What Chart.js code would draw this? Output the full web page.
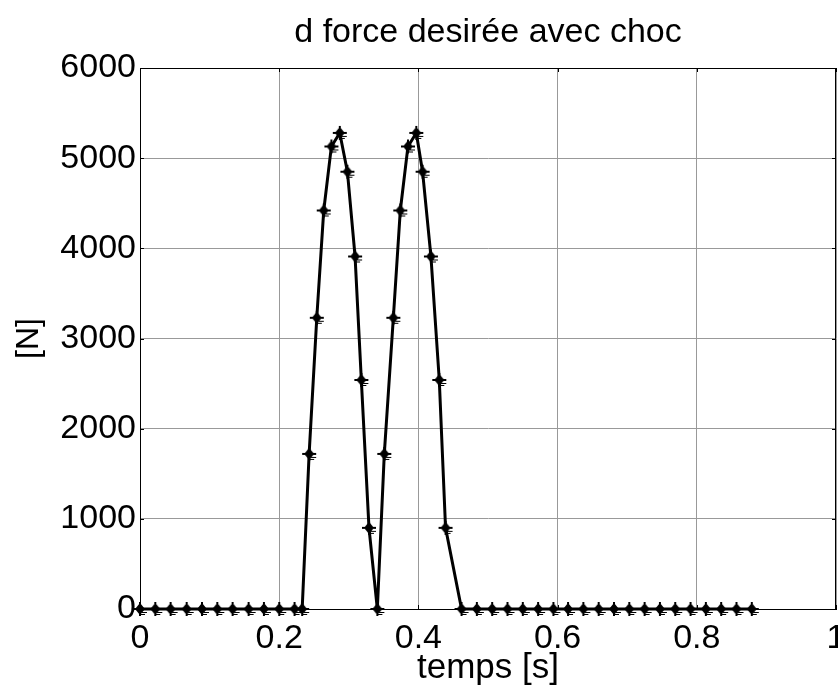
<!DOCTYPE html>
<html>
<head>
<meta charset="utf-8">
<script src="https://cdn.jsdelivr.net/npm/chart.js@4/dist/chart.umd.min.js"></script>
<style>
html,body{margin:0;padding:0;background:#fff;}
canvas{display:block;}
</style>
</head>
<body>
<canvas id="c" width="838" height="697"></canvas>
<script>
// Data
const times = [0, 0.022, 0.044, 0.067, 0.089, 0.111, 0.133, 0.156, 0.178, 0.200, 0.222, 0.233,
  0.243, 0.254, 0.264, 0.275, 0.287, 0.298, 0.309, 0.318, 0.329, 0.341,
  0.351, 0.364, 0.374, 0.385, 0.397, 0.406, 0.418, 0.430, 0.439, 0.462,
  0.484, 0.506, 0.528, 0.550, 0.572, 0.594, 0.615, 0.637, 0.659, 0.681,
  0.703, 0.725, 0.747, 0.769, 0.791, 0.813, 0.835, 0.857, 0.879];
const forces = [0, 0, 0, 0, 0, 0, 0, 0, 0, 0, 0, 0,
  1720, 3230, 4420, 5130, 5280, 4850, 3910, 2540, 900, 0,
  1720, 3230, 4420, 5130, 5280, 4850, 3910, 2540, 900, 0,
  0, 0, 0, 0, 0, 0, 0, 0, 0, 0,
  0, 0, 0, 0, 0, 0, 0, 0, 0];
const xTicks = [0, 0.2, 0.4, 0.6, 0.8, 1];
const yTicks = [0, 1000, 2000, 3000, 4000, 5000, 6000];
const titleText = 'd force desirée avec choc';
const xTitle = 'temps [s]';
const yTitle = '[N]';

const points = times.map((t, i) => ({x: t, y: forces[i]}));
const FONT = '"Liberation Sans", Arial, Helvetica, sans-serif';

// marker: filled diamond with a plus (MATLAB-like '*' marker)
function makeMarker() {
  const c = document.createElement('canvas');
  c.width = 16; c.height = 16;
  const g = c.getContext('2d');
  g.fillStyle = '#000';
  g.beginPath();
  g.moveTo(8, 2); g.lineTo(13, 8); g.lineTo(8, 14); g.lineTo(3, 8); g.closePath();
  g.fill();
  g.fillRect(1, 7, 14, 2);
  g.fillRect(7, 1, 2, 14);
  g.fillRect(10, 11, 5, 1);
  g.fillRect(9, 13, 4, 1);
  return c;
}
const marker = makeMarker();

// frame with small inward tick marks on all four sides
const borderPlugin = {
  id: 'frame',
  beforeDatasetsDraw(chart) {
    const {ctx, chartArea: a, scales} = chart;
    ctx.save();
    ctx.strokeStyle = '#000';
    ctx.lineWidth = 1;
    ctx.strokeRect(Math.round(a.left) + 0.5, Math.round(a.top) + 0.5,
      Math.round(a.right - a.left) - 1, Math.round(a.bottom - a.top));
    const L = 4;
    ctx.beginPath();
    xTicks.forEach(v => {
      const px = Math.round(scales.x.getPixelForValue(v)) + 0.5;
      ctx.moveTo(px, a.top); ctx.lineTo(px, a.top + L);
      ctx.moveTo(px, a.bottom); ctx.lineTo(px, a.bottom - L);
    });
    yTicks.forEach(v => {
      const py = Math.round(scales.y.getPixelForValue(v)) + 0.5;
      ctx.moveTo(a.left, py); ctx.lineTo(a.left + L, py);
      ctx.moveTo(a.right, py); ctx.lineTo(a.right - L, py);
    });
    ctx.stroke();
    ctx.restore();
  }
};

new Chart(document.getElementById('c'), {
  type: 'scatter',
  data: {
    datasets: [{
      data: points,
      showLine: true,
      borderColor: '#000',
      backgroundColor: '#000',
      borderWidth: 3,
      pointStyle: marker,
      pointRadius: 6,
      clip: false,
      tension: 0
    }]
  },
  options: {
    responsive: false,
    animation: false,
    devicePixelRatio: 1,
    layout: { autoPadding: false, padding: {left: 0, right: 2, top: 0, bottom: 0} },
    plugins: {
      legend: { display: false },
      tooltip: { enabled: false },
      title: {
        display: true,
        text: titleText,
        fullSize: false,
        color: '#000',
        font: { family: FONT, size: 34, weight: 'normal', lineHeight: 1.2 },
        padding: { top: 12, bottom: 15.2 }
      }
    },
    scales: {
      x: {
        type: 'linear',
        min: 0, max: 1,
        afterBuildTicks(s) { s.ticks = xTicks.map(v => ({value: v})); },
        afterFit(s) { s.height = 88; s.paddingLeft = 0; s.paddingRight = 0; },
        ticks: {
          color: '#000',
          font: { family: FONT, size: 34 },
          padding: 9,
          maxRotation: 0,
          autoSkip: false,
          callback: v => String(v)
        },
        grid: { color: '#999999', lineWidth: 1, drawTicks: false },
        border: { color: '#000', width: 1 },
        title: {
          display: true, text: xTitle, color: '#000',
          font: { family: FONT, size: 35, lineHeight: 1.2 },
          padding: { top: 0, bottom: 8 }
        }
      },
      y: {
        type: 'linear',
        min: 0, max: 6000,
        afterBuildTicks(s) { s.ticks = yTicks.map(v => ({value: v})); },
        afterFit(s) { s.width = 140; s.paddingTop = 0; s.paddingBottom = 0; },
        ticks: {
          color: '#000',
          font: { family: FONT, size: 34 },
          padding: 4,
          autoSkip: false,
          callback: v => String(v)
        },
        grid: { color: '#999999', lineWidth: 1, drawTicks: false },
        border: { color: '#000', width: 1 },
        title: {
          display: true, text: yTitle, color: '#000',
          font: { family: FONT, size: 32, lineHeight: 1.2 },
          padding: { top: 10, bottom: 0 }
        }
      }
    }
  },
  plugins: [borderPlugin]
});
</script>
</body>
</html>
